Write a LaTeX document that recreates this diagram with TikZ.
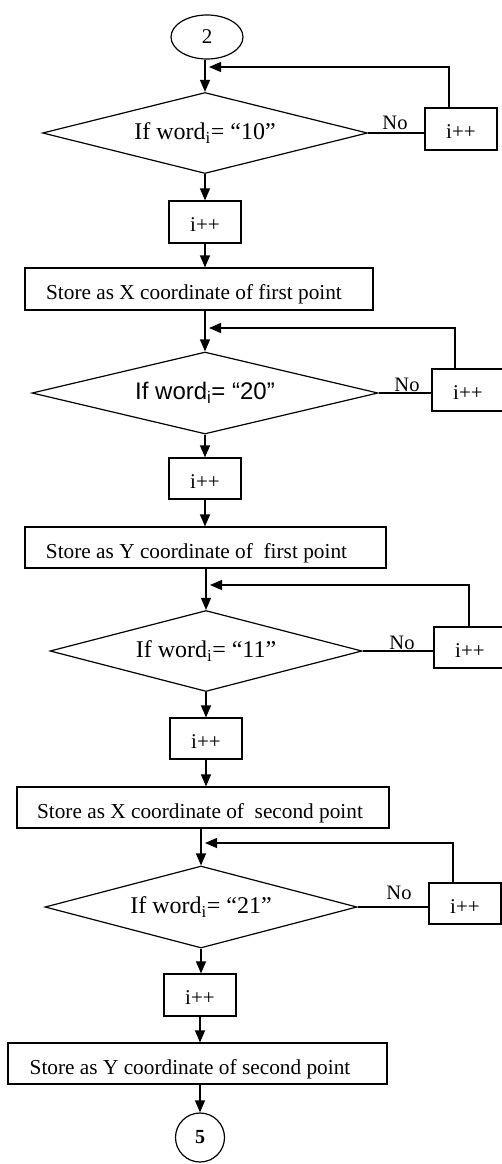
\documentclass[tikz,border=0pt]{standalone}
\usepackage{fontspec}
\setmainfont{Liberation Serif}
\newfontfamily\arialfont{Liberation Sans}
\usetikzlibrary{shapes.geometric,arrows.meta}
\tikzset{
  every node/.style={font=\fontsize{21}{25}\selectfont},
  box/.style={draw, line width=1.2pt, inner sep=0pt, minimum height=42pt},
  ibox/.style={box, minimum width=72pt, text height=19pt, text depth=0pt},
  sbox/.style={box, minimum height=41pt, font=\fontsize{21.3}{25}\selectfont, text height=21pt, text depth=0pt},
  dec/.style={draw, diamond, aspect=4, inner sep=0pt, line width=1.2pt, font=\fontsize{24}{28}\selectfont},
  conn/.style={line width=1.2pt},
  arr/.style={conn, -{Triangle[length=12pt,width=10pt]}},
  nolabel/.style={font=\fontsize{20.5}{24}\selectfont, inner sep=0pt},
}
\begin{document}
\begin{tikzpicture}[x=1pt,y=-1pt]
\useasboundingbox (0,0) rectangle (502,1164);
% segment 1
\node[ellipse, draw, line width=1.2pt, minimum width=72pt, minimum height=44pt, inner sep=0pt] (c2) at (207,37) {2};
\coordinate (j1) at (205,67);
\node[dec, minimum width=325pt, minimum height=81pt] (d1) at (205,133) {If word\textsubscript{i}= “10”};
\node[ibox] (r1) at (461,129) {i++};
\node[nolabel] (n1) at (395,123) {No};
\node[ibox] (i1) at (205,222) {i++};
\node[sbox, minimum width=348pt, minimum height=42pt] (s1) at (199,289) {Store as X coordinate of first point\kern10pt};
\draw[arr] (c2.south -| d1.north) -- (d1.north);
\draw[conn] (d1.east) -- (d1.east -| r1.west);
\draw[arr, shorten >=4pt] ([xshift=-12pt]r1.north) |- (j1);
\draw[arr] (d1.south) -- (i1.north);
\draw[arr] (i1.south) -- (i1.south |- s1.north);
% segment 2
\coordinate (j2) at (205,328);
\node[dec, minimum width=346pt, minimum height=82pt, font=\arialfont\fontsize{24}{28}\selectfont] (d2) at (205,393) {If word\textsubscript{i}= “20”};
\node[ibox] (r2) at (468,390) {i++};
\node[nolabel] (n2) at (407,385) {No};
\node[ibox, minimum height=41pt] (i2) at (205,478.5) {i++};
\node[sbox, minimum width=361pt] (s2) at (205.5,547.5) {Store as Y coordinate of\ \ first point\kern18pt};
\draw[arr] (s1.south -| d2.north) -- (d2.north);
\draw[conn] (d2.east) -- (d2.east -| r2.west);
\draw[arr, shorten >=4pt] ([xshift=-13pt]r2.north) |- (j2);
\draw[arr] (d2.south) -- (i2.north);
\draw[arr] (i2.south) -- (i2.south |- s2.north);
% segment 3
\coordinate (j3) at (206,585);
\node[dec, minimum width=312pt, minimum height=81pt] (d3) at (206,651) {If word\textsubscript{i}= “11”};
\node[ibox, minimum height=41pt] (r3) at (470,647.5) {i++};
\node[nolabel] (n3) at (402,643) {No};
\node[ibox, minimum height=41pt] (i3) at (206,738.5) {i++};
\node[sbox, minimum width=372pt] (s3) at (203,807.5) {Store as X coordinate of\ \ second point\kern6pt};
\draw[arr] (s2.south -| d3.north) -- (d3.north);
\draw[conn] (d3.east) -- (d3.east -| r3.west);
\draw[arr, shorten >=4pt] ([xshift=-1pt]r3.north) |- (j3);
\draw[arr] (d3.south) -- (i3.north);
\draw[arr] (i3.south) -- (i3.south |- s3.north);
% segment 4
\coordinate (j4) at (201,843);
\node[dec, minimum width=312pt, minimum height=82pt] (d4) at (201,907) {If word\textsubscript{i}= “21”};
\node[ibox, minimum height=41pt] (r4) at (465,903.5) {i++};
\node[nolabel] (n4) at (399,893) {No};
\node[ibox] (i4) at (200,995) {i++};
\node[sbox, minimum width=379pt] (s4) at (197.5,1063.5) {Store as Y coordinate of second point\kern15pt};
\node[circle, draw, line width=1.2pt, minimum size=49pt, inner sep=0pt, font=\bfseries\fontsize{20}{24}\selectfont] (c5) at (200,1137.5) {5};
\draw[arr] (s3.south -| d4.north) -- (d4.north);
\draw[conn] (d4.east) -- (d4.east -| r4.west);
\draw[arr, shorten >=4pt] ([xshift=-12pt]r4.north) |- (j4);
\draw[arr] (d4.south) -- (d4.south |- i4.north);
\draw[arr] (i4.south) -- (i4.south |- s4.north);
\draw[arr] (s4.south -| c5.north) -- (c5.north);
\end{tikzpicture}
\end{document}
